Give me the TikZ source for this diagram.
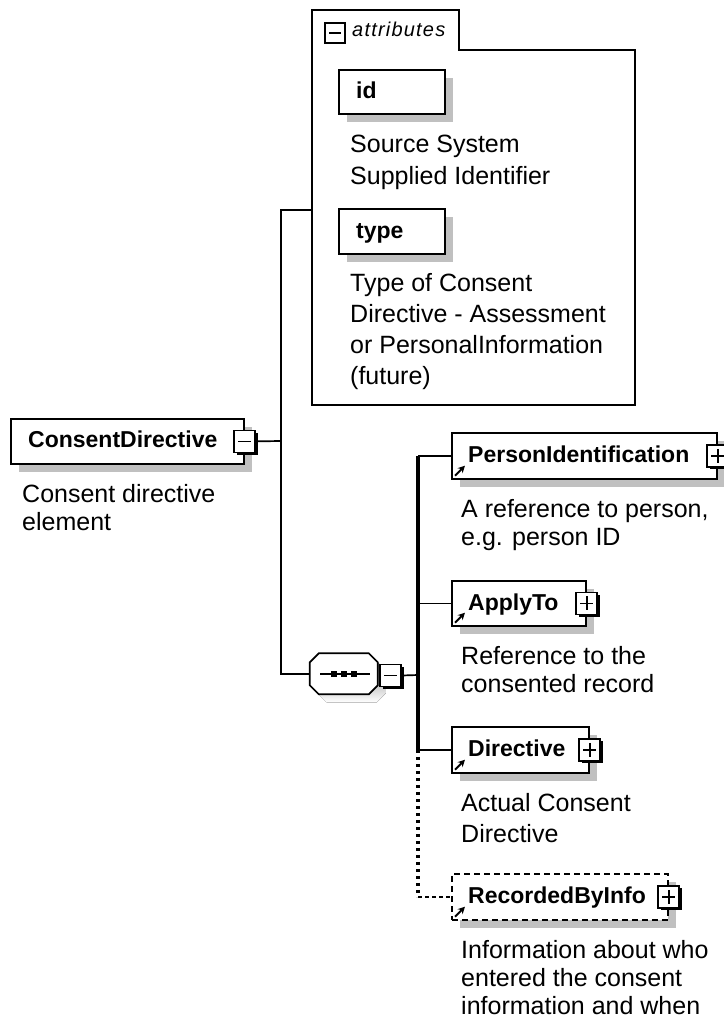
\documentclass[tikz,border=0pt]{standalone}
\usepackage{fontspec}
\setmainfont{Liberation Sans}
\newfontfamily\attrfont[LetterSpace=6]{Liberation Sans}
\usetikzlibrary{shadows,arrows.meta}
\definecolor{shade}{RGB}{192,192,192}
\begin{document}
\begin{tikzpicture}[x=1pt, y=-1pt, line join=miter, >=stealth,
    every node/.style={inner sep=0pt},
    elem/.style={draw, fill=white, line width=1.7pt, anchor=north west,
      general shadow={fill=shade, shadow xshift=8pt, shadow yshift=-8pt}},
    tag/.style={font=\fontsize{23}{27}\selectfont\bfseries, anchor=base west},
    desc/.style={font=\fontsize{25}{28}\selectfont, align=left, anchor=north west},
    pmbox/.style={draw, fill=white, line width=1.7pt, minimum width=21pt, minimum height=22pt,
      general shadow={fill=black, shadow xshift=2.5pt, shadow yshift=-2.5pt}},
    pmminus/.style={pmbox, path picture={\draw[line width=1.6pt] ([xshift=4pt]path picture bounding box.west) -- ([xshift=-4pt]path picture bounding box.east);}},
    pmplus/.style={pmbox, path picture={
      \draw[line width=1.6pt] ([xshift=4pt]path picture bounding box.west) -- ([xshift=-4pt]path picture bounding box.east);
      \draw[line width=1.6pt] ([yshift=-4pt]path picture bounding box.north) -- ([yshift=4pt]path picture bounding box.south);}},
    link/.style={line width=1.7pt},
    refarrow/.style={-{Stealth[length=7pt,width=7pt]}, line width=2pt}]
    \useasboundingbox (0,0) rectangle (723,1027);
    \fill[white] (0,0) rectangle (723,1027);
    % attributes
    \draw[link] (312,405) -- (312,10) -- (459,10) -- (459,50) -- (635,50) -- (635,405) -- cycle;
    \node[draw, fill=white, line width=2.2pt, minimum width=20pt, minimum height=20pt, anchor=north west,
      path picture={\draw[line width=1.6pt] ([xshift=4pt]path picture bounding box.west) -- ([xshift=-4pt]path picture bounding box.east);}] (attrpm) at (324,22) {};
    \node[font=\attrfont\fontsize{20}{24}\selectfont\itshape, anchor=base west] (attrlbl) at (352,37) {attributes};
    \node[elem, minimum width=106pt, minimum height=44pt] (id) at (338,69) {};
    \node[tag] (idlbl) at ([shift={(18,30)}]id.north west) {id};
    \node[desc, font=\fontsize{25}{32}\selectfont] (iddesc) at (350,135) {Source System\\Supplied Identifier};
    \node[elem, minimum width=106pt, minimum height=45pt] (type) at (338,208) {};
    \node[tag] (typelbl) at ([shift={(18,30)}]type.north west) {type};
    \node[desc, font=\fontsize{25}{31}\selectfont] (typedesc) at (350,273) {Type of Consent\\Directive - Assessment\\or PersonalInformation\\(future)};
    \coordinate (attrin) at (312,210);
    % root element
    \node[elem, minimum width=233pt, minimum height=45pt] (cd) at (10,418) {};
    \node[tag] (cdlbl) at ([shift={(18,29)}]cd.north west) {ConsentDirective};
    \node[pmminus] (cdpm) at (cd.east) {};
    \node[desc] (cddesc) at (22,484) {Consent directive\\element};
    \coordinate (fork) at (281,441);
    % sequence
    \node[minimum width=68pt, minimum height=41pt] (seq) at (344,674) {};
    \fill[shade] ([shift={(8,8)}]seq.north west) ++(9,0) -- ++(50,0) -- ++(9,9) -- ++(0,23) -- ++(-9,9) -- ++(-50,0) -- ++(-9,-9) -- ++(0,-23) -- cycle;
    \draw[link, fill=white] (seq.north west) ++(9,0) -- ++(50,0) -- ++(9,9) -- ++(0,23) -- ++(-9,9) -- ++(-50,0) -- ++(-9,-9) -- ++(0,-23) -- cycle;
    \draw[line width=1.6pt] ([xshift=-24pt]seq.center) -- ([xshift=26pt]seq.center);
    \foreach \dx in {-10,0,10}
        \fill ([xshift=\dx pt]seq.center) +(-3,-3) rectangle +(3,3);
    \node[pmminus] (seqpm) at (390.5,675.5) {};
    \coordinate (bus) at (418,675);
    % children
    \node[elem, minimum width=265pt, minimum height=46pt] (pi) at (451,432) {};
    \node[tag] (pilbl) at ([shift={(17,30)}]pi.north west) {PersonIdentification};
    \node[pmplus] (pipm) at (pi.east) {};
    \node[desc] (pidesc) at (461,499) {A reference to person,\\e.g. person ID};
    \node[elem, minimum width=134pt, minimum height=45pt] (apply) at (451,580) {};
    \node[tag] (applylbl) at ([shift={(17,30)}]apply.north west) {ApplyTo};
    \node[pmplus] (applypm) at (apply.east) {};
    \node[desc] (applydesc) at (461,646) {Reference to the\\consented record};
    \node[elem, minimum width=137pt, minimum height=46pt] (dir) at (451,726) {};
    \node[tag] (dirlbl) at ([shift={(17,30)}]dir.north west) {Directive};
    \node[pmplus] (dirpm) at (dir.east) {};
    \node[desc, font=\fontsize{25}{31}\selectfont] (dirdesc) at (461,793) {Actual Consent\\Directive};
    \node[elem, dash pattern=on 6pt off 4pt, minimum width=216pt, minimum height=46pt] (rec) at (451,873) {};
    \node[tag] (reclbl) at ([shift={(17,30)}]rec.north west) {RecordedByInfo};
    \node[pmplus] (recpm) at (rec.east) {};
    \node[desc] (recdesc) at (461,940) {Information about who\\entered the consent\\information and when};
    \foreach \c in {pi,apply,dir,rec}
        \draw[refarrow] ([shift={(4,-4)}]\c.south west) -- ++(10,-10);
    % connectors
    \draw[link] (cdpm.east) -- (fork);
    \draw[link] (attrin) -| (fork) |- (seq.west);
    \draw[link] (seqpm.east) -- (bus);
    \draw[line width=3.4pt] (bus |- pi.west) -- (bus |- dir.west);
    \foreach \c in {pi,apply,dir}
        \draw[link] (bus |- \c.west) -- (\c.west);
    \draw[line width=3.4pt, dash pattern=on 3pt off 4pt] (bus |- dir.west) -- (bus |- rec.west);
    \draw[link, dash pattern=on 4pt off 3pt] (bus |- rec.west) -- (rec.west);
\end{tikzpicture}
\end{document}
